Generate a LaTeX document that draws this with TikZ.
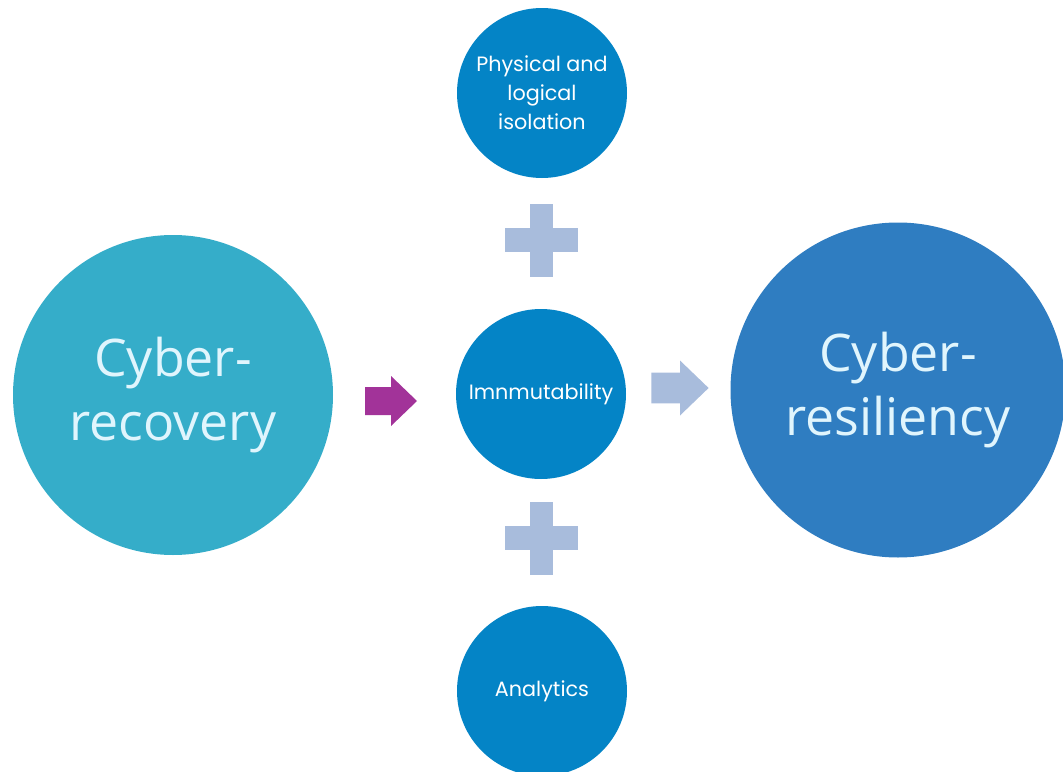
\documentclass[tikz,border=0pt]{standalone}
\usepackage{fontspec}
\setmainfont{Open Sans}
\newfontfamily\gothic{Poppins}
\definecolor{recoverblue}{RGB}{53,173,201}
\definecolor{resilblue}{RGB}{47,125,193}
\definecolor{pillarblue}{RGB}{4,132,198}
\definecolor{plusgrey}{RGB}{168,188,220}
\definecolor{arrowpurple}{RGB}{162,51,153}
\tikzset{
  bigdisc/.style={circle, minimum size=6.4cm, inner sep=0pt, align=center,
    font=\fontsize{29.5}{36}\selectfont, text=white!88!cyan},
  pillar/.style={circle, fill=pillarblue, minimum size=3.4cm, inner sep=0pt,
    align=center, text=white, font=\gothic\fontsize{11.8}{16.4}\selectfont},
  plussign/.pic={
    \fill[plusgrey] (-0.23,-0.73) rectangle (0.23,0.73);
    \fill[plusgrey] (-0.73,-0.24) rectangle (0.73,0.24);
  },
  fatarrow/.pic={
    \fill (-0.52,-0.28) -- (0.0,-0.28) -- (0.0,-0.5) -- (0.52,0)
      -- (0.0,0.5) -- (0.0,0.28) -- (-0.52,0.28) -- cycle;
  }
}
\begin{document}
\begin{tikzpicture}
\useasboundingbox (0,0) rectangle (21.26,-15.44);
% the two outer discs
\node[bigdisc, fill=recoverblue] (recovery) at (3.46,-7.9) {Cyber-\\recovery};
\node[bigdisc, fill=resilblue, minimum size=6.7cm] (resiliency) at (17.96,-7.8) {Cyber-\\resiliency};
% middle column
\node[pillar] (isolation) at (10.84,-1.86) {Physical and\\logical\\isolation};
\node[pillar] (immutable) at (10.82,-7.88) {Imnmutability};
\node[pillar] (analytics) at (10.84,-13.82) {Analytics};
\pic at (10.82,-4.8) {plussign};
\pic at (10.82,-10.76) {plussign};
% block arrows
\pic[arrowpurple] at (7.82,-8.02) {fatarrow};
\pic[plusgrey, scale=1.1] at (13.6,-7.76) {fatarrow};
\end{tikzpicture}
\end{document}
